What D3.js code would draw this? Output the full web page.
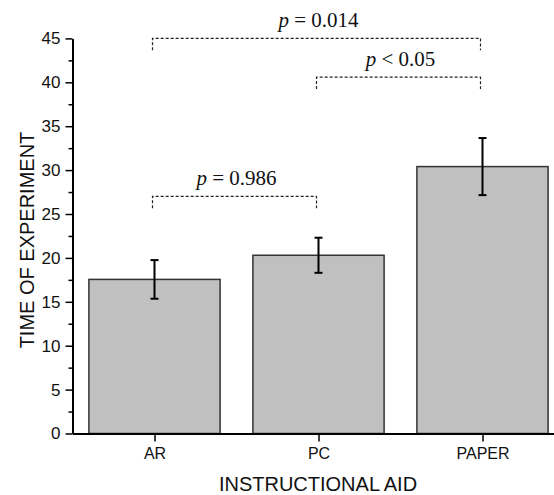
<!DOCTYPE html>
<html>
<head>
<meta charset="utf-8">
<script src="https://cdn.jsdelivr.net/npm/d3@7"></script>
<style>
  html, body { margin: 0; padding: 0; background: #fff; }
  svg { display: block; }
</style>
</head>
<body>
<svg id="chart" width="554" height="495"></svg>
<script>
// Mean experiment time per instructional aid, with error bars
const categories = ["AR", "PC", "PAPER"];
const means = [17.55, 20.3, 30.4];
const errors = [2.2, 2.0, 3.25];

// Pairwise comparisons drawn as dashed brackets
const bracketFrom = [0, 1, 0];
const bracketTo = [2, 2, 1];
const bracketLevel = [45, 40.6, 27];
const bracketOp = ["=", "<", "="];
const bracketValue = ["0.014", "0.05", "0.986"];

const yTicks = [0, 5, 10, 15, 20, 25, 30, 35, 40, 45];

const svg = d3.select("#chart");

// category positions are 1..n on a continuous axis
const x = d3.scaleLinear().domain([0.5, categories.length + 0.5]).range([72.5, 72.5 + 3 * 164]);
const y = d3.scaleLinear().domain([0, 45]).range([433.5, 38.4]);
const barW = 0.8;

const sans = "'Liberation Sans', Arial, sans-serif";
const serif = "'Liberation Serif', 'Times New Roman', serif";

// bars
svg.append("g").selectAll("rect")
  .data(means)
  .join("rect")
  .attr("x", (d, i) => x(i + 1 - barW / 2))
  .attr("width", x(1 + barW / 2) - x(1 - barW / 2))
  .attr("y", d => y(d))
  .attr("height", d => y(0) - y(d))
  .attr("fill", "#c0c0c0")
  .attr("stroke", "#333")
  .attr("stroke-width", 1.5);

// error bars
const eg = svg.append("g").attr("stroke", "#000").attr("stroke-width", 2).attr("fill", "none");
means.forEach((m, i) => {
  const cx = x(i + 1);
  const top = y(m + errors[i]);
  const bot = y(m - errors[i]);
  eg.append("line").attr("x1", cx).attr("x2", cx).attr("y1", top).attr("y2", bot);
  eg.append("line").attr("x1", cx - 4).attr("x2", cx + 4).attr("y1", top).attr("y2", top);
  eg.append("line").attr("x1", cx - 4).attr("x2", cx + 4).attr("y1", bot).attr("y2", bot);
});

// y axis: minor ticks then major ticks with labels
const minorTicks = d3.range(2.5, 45, 5);
svg.append("g")
  .attr("transform", `translate(${x(0.5)},0)`)
  .call(d3.axisLeft(y).tickValues(minorTicks).tickSize(4).tickFormat(""))
  .call(g => g.select(".domain").remove())
  .call(g => g.selectAll("line").attr("stroke", "#000").attr("stroke-width", 1.5));

const yAxis = svg.append("g")
  .attr("transform", `translate(${x(0.5)},0)`)
  .call(d3.axisLeft(y).tickValues(yTicks).tickSize(7).tickSizeOuter(0).tickPadding(5));
yAxis.select(".domain").attr("stroke", "#000").attr("stroke-width", 2);
yAxis.selectAll("line").attr("stroke", "#000").attr("stroke-width", 1.5);
yAxis.selectAll("text").attr("font-family", sans).attr("font-size", 17).attr("fill", "#111");

// x axis
const xAxis = svg.append("g")
  .attr("transform", `translate(0,${y(0)})`)
  .call(d3.axisBottom(x).tickValues(categories.map((c, i) => i + 1))
    .tickFormat((d, i) => categories[i]).tickSize(8).tickSizeOuter(0).tickPadding(6));
xAxis.select(".domain").attr("stroke", "#000").attr("stroke-width", 2);
xAxis.selectAll("line").attr("stroke", "#000").attr("stroke-width", 1.5);
xAxis.selectAll("text").attr("font-family", sans).attr("font-size", 16).attr("fill", "#111");

// axis titles
svg.append("text")
  .attr("x", 318).attr("y", 491)
  .attr("text-anchor", "middle")
  .attr("font-family", sans).attr("font-size", 20).attr("fill", "#111")
  .text("INSTRUCTIONAL AID");

svg.append("text")
  .attr("transform", "translate(34,240) rotate(-90)")
  .attr("text-anchor", "middle")
  .attr("font-family", sans).attr("font-size", 20).attr("fill", "#111")
  .text("TIME OF EXPERIMENT");

// significance brackets
const drop = 1.35;
const bg = svg.append("g");
bracketLevel.forEach((lv, i) => {
  const x1 = x(bracketFrom[i] + 1) - 2;
  const x2 = x(bracketTo[i] + 1) - 2;
  const yl = y(lv);
  const yd = y(lv - drop);
  bg.append("path")
    .attr("d", `M${x1},${yd}V${yl}H${x2}V${yd}`)
    .attr("fill", "none")
    .attr("stroke", "#222")
    .attr("stroke-width", 1.2)
    .attr("stroke-dasharray", "3,2");
  const t = bg.append("text")
    .attr("x", (x1 + x2) / 2 + 2)
    .attr("y", yl - 11)
    .attr("text-anchor", "middle")
    .attr("font-family", serif).attr("font-size", 21).attr("fill", "#111");
  t.append("tspan").attr("font-style", "italic").text("p");
  t.append("tspan").text(" " + bracketOp[i] + " " + bracketValue[i]);
});
</script>
</body>
</html>
